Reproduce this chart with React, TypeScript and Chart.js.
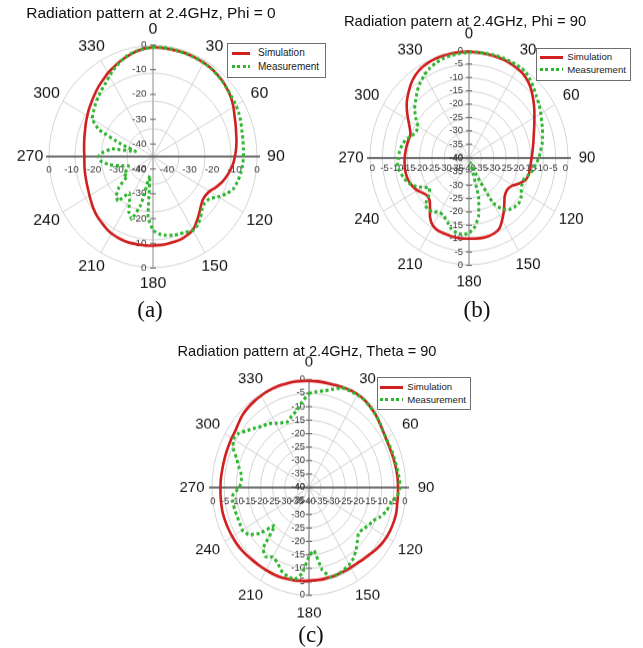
import React, { useEffect, useRef } from "react";
import { Chart, registerables } from "chart.js";

Chart.register(...registerables);

// ---------- data ----------
const ANGLES = [
  0, 5, 10, 15, 20, 25, 30, 35, 40, 45, 50, 55,
  60, 65, 70, 75, 80, 85, 90, 95, 100, 105, 110, 115,
  120, 125, 130, 135, 140, 145, 150, 155, 160, 165, 170, 175,
  180, 185, 190, 195, 200, 205, 210, 215, 220, 225, 230, 235,
  240, 245, 250, 255, 260, 265, 270, 275, 280, 285, 290, 295,
  300, 305, 310, 315, 320, 325, 330, 335, 340, 345, 350, 355,
];
const LABELED_ANGLES = [0, 30, 60, 90, 120, 150, 180, 210, 240, 270, 300, 330];
const DB_TICKS_10 = [-40, -30, -20, -10, 0];
const DB_TICKS_5 = [-40, -35, -30, -25, -20, -15, -10, -5, 0];

const SIM_PHI0 = [
  -0.7, -0.7, -0.8, -0.8, -0.8, -0.9, -1.0, -1.1, -1.5, -1.9, -2.6, -3.3,
  -4.3, -5.4, -6.2, -6.9, -7.4, -7.9, -8.5, -9.1, -10.0, -11.0, -12.1, -13.5,
  -14.9, -15.4, -15.2, -14.1, -12.6, -11.0, -9.4, -8.8, -8.3, -8.2, -8.1, -8.0,
  -7.9, -7.8, -7.8, -7.7, -7.7, -7.8, -8.0, -8.5, -9.1, -9.6, -10.3, -11.1,
  -11.8, -12.4, -12.8, -13.1, -13.3, -13.5, -13.6, -13.4, -13.1, -12.7, -12.2, -11.5,
  -10.8, -10.0, -9.2, -8.3, -7.3, -6.4, -5.3, -4.4, -3.4, -2.5, -1.6, -1.0,
];
const MEAS_PHI0 = [
  -0.7, -0.5, -0.6, -0.8, -0.8, -0.9, -1.0, -1.2, -1.6, -2.0, -2.5, -2.9,
  -3.1, -3.5, -4.0, -4.6, -4.9, -5.1, -5.2, -5.4, -5.7, -6.2, -6.8, -8.5,
  -11.0, -13.5, -14.0, -13.3, -11.5, -10.0, -9.3, -10.0, -10.3, -10.6, -11.2, -12.0,
  -13.4, -18, -33, -22, -16, -18, -22, -24, -19, -20, -23, -28,
  -27, -29, -30, -27, -23, -20, -19, -21, -24, -33, -27, -17,
  -13, -12, -11, -10, -9, -8, -6.5, -5, -3.5, -2.3, -1.5, -1.0,
];
const SIM_PHI90 = [
  -0.2, -0.3, -0.4, -0.5, -0.6, -0.8, -1.2, -1.7, -2.8, -4.3, -6.1, -7.8,
  -9.5, -10.9, -12.1, -13.0, -13.7, -14.3, -14.7, -15.0, -15.0, -15.1, -15.8, -17.5,
  -19.5, -20.4, -20.4, -19.6, -17.8, -15.5, -13.2, -10.9, -10.0, -9.7, -9.6, -9.7,
  -9.8, -9.7, -9.7, -9.9, -10.0, -10.1, -10.8, -12.6, -15.5, -17.5, -18.0, -17.2,
  -15.8, -14.9, -14.2, -13.9, -13.8, -13.9, -14.0, -14.2, -14.4, -14.6, -14.8, -13.6,
  -11.7, -9.4, -7.2, -5.4, -3.6, -2.2, -1.2, -0.7, -0.4, -0.3, -0.2, -0.2,
];
const MEAS_PHI90 = [
  -0.4, -0.3, -0.2, -0.1, -0.1, -0.1, -0.2, -0.4, -1.6, -3.0, -4.3, -5.4,
  -6.5, -7.6, -8.4, -9.2, -10.0, -11.0, -11.8, -12.9, -13.8, -15.2, -16.5, -16.4,
  -15.6, -14.3, -13.7, -14.0, -14.8, -16.5, -20.5, -33, -38, -25, -17.8, -14,
  -11.8, -11.2, -11.5, -12.5, -14.5, -16, -16.5, -15.5, -14.5, -15, -19, -20.5,
  -18, -15.5, -13.5, -12.5, -11.5, -11, -11.5, -11.8, -12.5, -13.5, -15.5, -16.5,
  -16.2, -13.7, -11.3, -9.5, -7.4, -5.6, -4, -2.7, -1.8, -1.2, -0.9, -0.6,
];
const SIM_THETA90 = [
  -0.4, -0.4, -0.5, -0.5, -0.3, -0.1, 0, -0.2, -0.8, -1.4, -2.2, -2.9,
  -3.4, -3.6, -3.6, -3.5, -3.4, -3.3, -3.3, -3.2, -3.1, -2.8, -2.8, -2.9,
  -3.1, -3.5, -4.1, -4.8, -5.2, -5.6, -5.7, -5.7, -5.7, -5.6, -5.5, -5.5,
  -5.4, -5.2, -5.0, -4.9, -4.7, -4.6, -4.6, -4.5, -4.4, -4.1, -3.8, -3.6,
  -3.5, -3.4, -3.3, -3.2, -3.3, -3.4, -3.5, -3.5, -3.6, -3.6, -3.5, -3.4,
  -3.2, -3.0, -2.3, -1.5, -1.1, -0.8, -0.6, -0.4, -0.3, -0.3, -0.2, -0.3,
];
const MEAS_THETA90 = [
  -5.1, -4.3, -3.5, -2.2, -0.6, -0.3, -0.2, -0.3, -0.8, -1.4, -2.1, -2.9,
  -3.3, -3.3, -3.2, -3.1, -2.9, -2.6, -2.4, -3.5, -5.9, -6.8, -8.5, -10.8,
  -11.7, -13.0, -13.4, -11.8, -9.8, -8.0, -6.9, -6.2, -5.6, -5.6, -9.0, -16.5,
  -14.5, -8.0, -5.3, -5.9, -7.0, -9.2, -10.2, -8.7, -10.5, -20, -13.5, -9.5,
  -8.3, -8.5, -8.5, -8.3, -8.1, -8.5, -11.3, -12.0, -11.6, -10.0, -8.2, -5.5,
  -4.0, -4.8, -7.0, -8.7, -10.2, -11.0, -12.5, -13.5, -14.1, -12.5, -11.0, -8.0,
];

const SERIES_NAMES = ["Simulation", "Measurement"];
const TITLES = [
  "Radiation pattern at 2.4GHz, Phi = 0",
  "Radiation patern at 2.4GHz, Phi = 90",
  "Radiation pattern at 2.4GHz, Theta = 90",
];
const CAPTIONS = ["(a)", "(b)", "(c)"];

// ---------- styling / layout ----------
const RED = "#d01f1f";
const GREEN = "#2fb52f";
const SANS = '"Liberation Sans", Arial, Helvetica, sans-serif';
const SERIF = '"Liberation Serif", "Times New Roman", serif';
const S = 280; // internal canvas size

type Legend = {
  left: number; top: number; width: number; height: number;
  lineX: number; lineW: number; textX: number; row1: number; row2: number; font: number;
};
type Panel = {
  title: string; caption: string; sim: number[]; meas: number[]; ticks: number[]; step: number;
  cx: number; cy: number; R: number; k: number;
  angleFont: number; Dx: number; Dy: number;
  tickFont: number; vOff: number; vSpan: number; hOff: number; hSpan: number; hRowY: number; vLabelX: number;
  vAxis: string;
  titleX: number; titleTop: number; titleFont: number;
  legend: Legend;
  capX: number; capTop: number;
};

const PANELS: Panel[] = [
  {
    title: TITLES[0], caption: CAPTIONS[0], sim: SIM_PHI0, meas: MEAS_PHI0, ticks: DB_TICKS_10, step: 10,
    cx: 153.3, cy: 156.5, R: 104, k: 1.067,
    angleFont: 16, Dx: 123, Dy: 127,
    tickFont: 10, vOff: 12.5, vSpan: 99, hOff: 14, hSpan: 90, hRowY: 13.4, vLabelX: 6.5,
    vAxis: "#a0a0a0",
    titleX: 151, titleTop: 5.3, titleFont: 15.5,
    legend: { left: 227, top: 43, width: 99, height: 35, lineX: 4, lineW: 18, textX: 30, row1: 9.3, row2: 22.7, font: 10 },
    capX: 150, capTop: 297.5,
  },
  {
    title: TITLES[1], caption: CAPTIONS[1], sim: SIM_PHI90, meas: MEAS_PHI90, ticks: DB_TICKS_5, step: 5,
    cx: 469.3, cy: 158, R: 99, k: 1.08,
    angleFont: 15, Dx: 118, Dy: 124,
    tickFont: 9.5, vOff: 0.5, vSpan: 107, hOff: 0, hSpan: 96.5, hRowY: 10.5, vLabelX: 6,
    vAxis: "#888888",
    titleX: 465, titleTop: 14.1, titleFont: 14.8,
    legend: { left: 536, top: 47.7, width: 95, height: 33.3, lineX: 3, lineW: 23, textX: 30.3, row1: 8.6, row2: 21.3, font: 9.6 },
    capX: 477, capTop: 297.5,
  },
  {
    title: TITLES[2], caption: CAPTIONS[2], sim: SIM_THETA90, meas: MEAS_THETA90, ticks: DB_TICKS_5, step: 5,
    cx: 309.3, cy: 487.5, R: 97, k: 1.108,
    angleFont: 15, Dx: 117, Dy: 125,
    tickFont: 9.5, vOff: 0, vSpan: 107.5, hOff: 0, hSpan: 96, hRowY: 13.8, vLabelX: 4,
    vAxis: "#777777",
    titleX: 307, titleTop: 344, titleFont: 14.6,
    legend: { left: 377.3, top: 377.3, width: 93.4, height: 32.7, lineX: 1.7, lineW: 23, textX: 29, row1: 9, row2: 21.7, font: 9.6 },
    capX: 311, capTop: 622.5,
  },
];

function makeAxesPlugin(p: Panel) {
  return {
    id: "polarAxes",
    beforeDatasetsDraw(chart: any) {
      const sc = chart.scales.r;
      const ctx: CanvasRenderingContext2D = chart.ctx;
      const x0 = sc.xCenter;
      const y0 = sc.yCenter;
      const R = sc.drawingArea;
      const k = p.k;
      const put = (s: string, x: number, y: number, align: CanvasTextAlign) => {
        ctx.save();
        ctx.translate(x, y);
        ctx.scale(1, 1 / k);
        ctx.textAlign = align;
        ctx.textBaseline = "middle";
        ctx.fillText(s, 0, 0);
        ctx.restore();
      };
      ctx.save();
      // vertical axis
      ctx.strokeStyle = p.vAxis;
      ctx.lineWidth = 1;
      ctx.beginPath();
      ctx.moveTo(x0, y0 - R);
      ctx.lineTo(x0, y0 + R);
      ctx.stroke();
      // horizontal axis
      ctx.strokeStyle = "#4d4d4d";
      ctx.lineWidth = 1.3;
      ctx.beginPath();
      ctx.moveTo(x0 - R - 3, y0);
      ctx.lineTo(x0 + R + 3, y0);
      ctx.stroke();
      // dB tick labels
      ctx.font = `${p.tickFont}px ${SANS}`;
      ctx.fillStyle = "#3a3a3a";
      ctx.strokeStyle = "#666";
      ctx.lineWidth = 1;
      for (const v of p.ticks) {
        const f = sc.getDistanceFromCenterForValue(v) / R;
        const vd = (p.vOff + f * p.vSpan) / k;
        const hd = p.hOff + f * p.hSpan;
        const txt = String(v);
        for (const sgn of [-1, 1]) {
          const y = y0 + sgn * vd;
          put(txt, x0 - p.vLabelX, y, "right");
          ctx.beginPath();
          ctx.moveTo(x0 - 3, y);
          ctx.lineTo(x0 + 3, y);
          ctx.stroke();
        }
        put(txt, x0 - hd, y0 + p.hRowY / k, "center");
        if (hd > 0.5) put(txt, x0 + hd, y0 + p.hRowY / k, "center");
      }
      // angle labels
      ctx.font = `${p.angleFont}px ${SANS}`;
      ctx.fillStyle = "#111";
      ANGLES.forEach((a, i) => {
        if (!LABELED_ANGLES.includes(a)) return;
        const px = sc.getPointPosition(i, p.Dx).x;
        const py = sc.getPointPosition(i, p.Dy / k).y;
        put(String(a), px, py, "center");
      });
      ctx.restore();
    },
  };
}

function PolarPanel({ p }: { p: Panel }) {
  const ref = useRef<HTMLCanvasElement | null>(null);
  useEffect(() => {
    const canvas = ref.current;
    if (!canvas) return;
    const chart = new Chart(canvas, {
      type: "radar",
      data: {
        labels: ANGLES.map(String),
        datasets: [
          {
            label: SERIES_NAMES[0],
            data: p.sim,
            borderColor: RED,
            backgroundColor: RED,
            borderWidth: 2.6,
            pointRadius: 0,
            fill: false,
            tension: 0.35,
            order: 1,
          },
          {
            label: SERIES_NAMES[1],
            data: p.meas,
            borderColor: GREEN,
            backgroundColor: GREEN,
            borderWidth: 3,
            borderDash: [3, 2.6],
            pointRadius: 0,
            fill: false,
            tension: 0.1,
            order: 0,
          },
        ],
      },
      options: {
        responsive: false,
        animation: false,
        devicePixelRatio: 1,
        layout: { padding: S / 2 - p.R },
        plugins: {
          legend: { display: false },
          title: { display: false },
          tooltip: { enabled: false },
        },
        events: [],
        scales: {
          r: {
            min: -40,
            max: 0,
            beginAtZero: false,
            ticks: { display: false, stepSize: p.step },
            pointLabels: { display: false },
            grid: { circular: true, color: "#d4d4d4", lineWidth: 1 },
            angleLines: {
              display: true,
              color: (c: any) => (LABELED_ANGLES.includes(ANGLES[c.index]) ? "#d4d4d4" : "rgba(0,0,0,0)"),
              lineWidth: (c: any) => (LABELED_ANGLES.includes(ANGLES[c.index]) ? 1 : 0),
            },
          },
        },
      } as any,
      plugins: [makeAxesPlugin(p)],
    });
    return () => chart.destroy();
  }, [p]);

  const cssH = S * p.k;
  const L = p.legend;
  const textTop = (row: number) => row - 0.52 * L.font;
  return (
    <>
      <canvas
        ref={ref}
        width={S}
        height={S}
        style={{ position: "absolute", left: p.cx - S / 2, top: p.cy - cssH / 2, width: S, height: cssH }}
      />
      <div
        style={{
          position: "absolute",
          left: p.titleX,
          top: p.titleTop,
          transform: "translateX(-50%)",
          fontFamily: SANS,
          fontSize: p.titleFont,
          lineHeight: 1,
          whiteSpace: "nowrap",
          color: "#111",
        }}
      >
        {p.title}
      </div>
      <div
        style={{
          position: "absolute",
          left: L.left,
          top: L.top,
          width: L.width,
          height: L.height,
          boxSizing: "border-box",
          border: "1px solid #6e6e6e",
          background: "#fff",
          fontFamily: SANS,
          color: "#222",
        }}
      >
        <div style={{ position: "absolute", left: L.lineX, top: L.row1 - 1.5, width: L.lineW, height: 3, background: RED }} />
        <div style={{ position: "absolute", left: L.textX, top: textTop(L.row1), fontSize: L.font, lineHeight: 1, whiteSpace: "nowrap" }}>
          {SERIES_NAMES[0]}
        </div>
        <div
          style={{
            position: "absolute",
            left: L.lineX,
            top: L.row2 - 1.5,
            width: L.lineW,
            height: 3,
            background: `repeating-linear-gradient(to right, ${GREEN} 0px, ${GREEN} 3px, transparent 3px, transparent 5.5px)`,
          }}
        />
        <div style={{ position: "absolute", left: L.textX, top: textTop(L.row2), fontSize: L.font, lineHeight: 1, whiteSpace: "nowrap" }}>
          {SERIES_NAMES[1]}
        </div>
      </div>
      <div
        style={{
          position: "absolute",
          left: p.capX,
          top: p.capTop,
          transform: "translateX(-50%)",
          fontFamily: SERIF,
          fontSize: 23,
          lineHeight: 1,
          whiteSpace: "nowrap",
          color: "#111",
        }}
      >
        {p.caption}
      </div>
    </>
  );
}

export default function App() {
  return (
    <div
      style={{
        position: "absolute",
        left: 0,
        top: 0,
        width: 643,
        height: 648,
        overflow: "hidden",
        background: "#fff",
      }}
    >
      {PANELS.map((p) => (
        <PolarPanel key={p.caption} p={p} />
      ))}
    </div>
  );
}
